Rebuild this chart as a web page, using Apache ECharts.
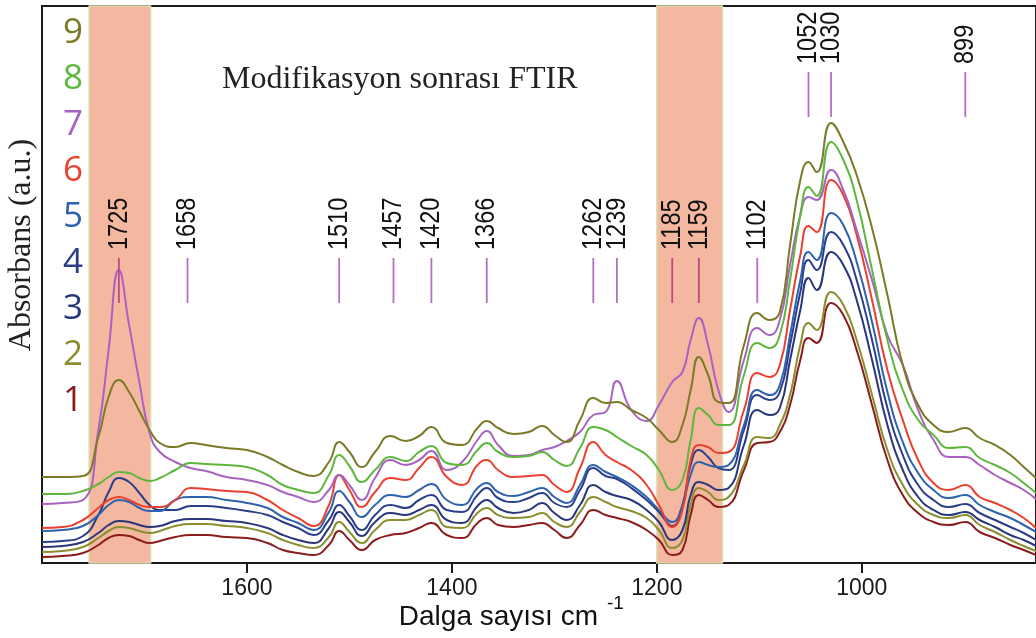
<!DOCTYPE html>
<html><head><meta charset="utf-8">
<script src="https://cdn.jsdelivr.net/npm/echarts@6.0.0/dist/echarts.min.js"></script>
<style>html,body{margin:0;padding:0;background:#fff}#c{width:1036px;height:638px}</style>
</head><body><div id="c"></div>
<script>
// wavenumbers (cm-1)
const wavenumbers = [1800,1780,1760,1745,1735,1725,1715,1705,1695,1685,1670,1655,1640,1620,1600,1580,1565,1550,1535,1520,1510,1500,1488,1475,1460,1445,1432,1420,1405,1390,1375,1366,1355,1340,1325,1312,1300,1288,1275,1262,1250,1239,1225,1210,1198,1185,1175,1167,1159,1150,1140,1130,1115,1102,1090,1080,1070,1060,1052,1044,1030,1018,1005,990,975,960,945,930,915,899,885,870,855,842,830];
// absorbance (a.u.), spectra 1..9
const s1 = [0.06,0.07,0.10,0.18,0.25,0.28,0.27,0.23,0.20,0.22,0.26,0.28,0.28,0.26,0.25,0.20,0.13,0.10,0.08,0.18,0.32,0.23,0.13,0.23,0.28,0.30,0.35,0.40,0.28,0.25,0.40,0.45,0.38,0.36,0.38,0.40,0.33,0.25,0.38,0.53,0.48,0.45,0.41,0.33,0.23,0.08,0.13,0.48,0.68,0.63,0.56,0.58,0.93,1.20,1.21,1.31,1.58,2.03,2.25,2.20,2.60,2.48,2.13,1.58,1.03,0.68,0.50,0.41,0.38,0.41,0.31,0.25,0.18,0.13,0.08];
const s2 = [0.11,0.12,0.16,0.25,0.32,0.36,0.35,0.32,0.30,0.32,0.37,0.39,0.39,0.37,0.35,0.30,0.23,0.18,0.15,0.26,0.41,0.31,0.20,0.33,0.43,0.43,0.48,0.53,0.36,0.35,0.50,0.55,0.48,0.45,0.46,0.50,0.41,0.36,0.51,0.66,0.61,0.56,0.52,0.45,0.33,0.15,0.23,0.58,0.75,0.71,0.63,0.66,0.98,1.26,1.25,1.38,1.68,2.18,2.40,2.33,2.71,2.58,2.23,1.68,1.13,0.78,0.58,0.48,0.45,0.48,0.38,0.31,0.23,0.17,0.12];
const s3 = [0.16,0.17,0.21,0.30,0.38,0.42,0.41,0.38,0.36,0.37,0.42,0.44,0.44,0.42,0.40,0.35,0.28,0.23,0.20,0.35,0.51,0.41,0.27,0.41,0.50,0.48,0.53,0.58,0.43,0.40,0.57,0.63,0.55,0.50,0.53,0.60,0.50,0.43,0.58,0.78,0.71,0.67,0.63,0.53,0.41,0.23,0.33,0.68,0.81,0.78,0.73,0.75,1.18,1.53,1.48,1.55,2.03,2.53,2.85,2.73,3.11,2.98,2.63,2.03,1.38,0.93,0.66,0.53,0.48,0.51,0.43,0.36,0.28,0.23,0.17];
const s4 = [0.21,0.22,0.27,0.48,0.71,0.85,0.81,0.70,0.58,0.53,0.53,0.57,0.57,0.55,0.52,0.48,0.41,0.35,0.28,0.43,0.58,0.47,0.33,0.48,0.58,0.55,0.63,0.68,0.53,0.51,0.68,0.75,0.65,0.61,0.65,0.70,0.60,0.56,0.73,0.95,0.87,0.84,0.75,0.63,0.51,0.37,0.58,0.98,1.13,1.06,0.95,0.93,1.33,1.68,1.63,1.71,2.18,2.71,3.03,2.93,3.31,3.18,2.83,2.23,1.55,1.08,0.78,0.63,0.56,0.59,0.50,0.43,0.36,0.30,0.23];
const s5 = [0.32,0.33,0.37,0.48,0.58,0.63,0.61,0.55,0.52,0.52,0.63,0.66,0.66,0.63,0.60,0.55,0.46,0.40,0.33,0.51,0.72,0.61,0.46,0.58,0.68,0.66,0.73,0.79,0.63,0.58,0.75,0.80,0.71,0.67,0.71,0.75,0.66,0.60,0.78,0.98,0.91,0.86,0.78,0.66,0.53,0.41,0.58,0.88,1.01,0.98,0.96,0.98,1.38,1.73,1.68,1.78,2.28,2.83,3.11,3.03,3.50,3.38,3.01,2.41,1.71,1.21,0.90,0.73,0.65,0.68,0.58,0.51,0.45,0.38,0.31];
const s6 = [0.35,0.36,0.43,0.55,0.63,0.66,0.63,0.58,0.56,0.56,0.63,0.75,0.74,0.72,0.71,0.63,0.53,0.45,0.37,0.58,0.88,0.73,0.56,0.71,0.85,0.83,0.95,1.06,0.86,0.78,0.98,1.03,0.93,0.86,0.87,0.88,0.78,0.71,0.95,1.21,1.08,1.01,0.93,0.78,0.58,0.36,0.53,1.03,1.18,1.16,1.10,1.11,1.53,1.90,1.86,1.98,2.53,3.08,3.37,3.31,3.83,3.68,3.28,2.63,1.93,1.43,1.03,0.80,0.73,0.78,0.66,0.60,0.53,0.45,0.35];
const s7 = [0.59,0.60,0.63,1.33,2.13,2.93,2.38,1.81,1.30,1.11,1.01,0.95,0.92,0.86,0.83,0.78,0.71,0.66,0.61,0.73,0.88,0.78,0.63,0.85,1.03,0.98,1.03,1.12,0.93,1.01,1.23,1.32,1.18,1.07,1.08,1.13,1.16,1.22,1.31,1.48,1.51,1.82,1.53,1.42,1.58,1.81,1.91,2.23,2.45,2.18,1.73,1.51,2.03,2.35,2.28,2.43,2.98,3.48,3.66,3.63,3.93,3.73,3.33,2.83,2.28,1.98,1.53,1.23,1.06,1.06,0.98,0.88,0.80,0.73,0.64];
const s8 = [0.69,0.69,0.72,0.79,0.86,0.91,0.90,0.85,0.82,0.85,0.93,1.00,0.99,0.98,0.96,0.88,0.78,0.73,0.70,0.88,1.08,0.97,0.81,0.93,1.06,1.02,1.11,1.17,1.00,0.98,1.13,1.20,1.11,1.06,1.07,1.11,1.03,0.97,1.15,1.36,1.33,1.26,1.17,1.08,0.93,0.73,0.83,1.23,1.55,1.48,1.38,1.38,1.88,2.20,2.15,2.28,2.83,3.48,3.76,3.67,4.21,4.03,3.63,2.93,2.23,1.73,1.43,1.28,1.15,1.16,1.05,0.98,0.90,0.80,0.70];
const s9 = [0.86,0.86,0.87,1.26,1.66,1.83,1.71,1.52,1.33,1.20,1.16,1.20,1.18,1.15,1.13,1.06,0.98,0.91,0.87,1.01,1.21,1.11,0.96,1.11,1.27,1.22,1.27,1.36,1.20,1.18,1.35,1.42,1.35,1.29,1.31,1.37,1.28,1.21,1.43,1.65,1.60,1.61,1.53,1.45,1.33,1.21,1.38,1.73,2.06,1.88,1.61,1.60,2.18,2.50,2.43,2.51,3.18,3.83,4.01,3.91,4.40,4.21,3.88,3.35,2.68,1.98,1.58,1.38,1.31,1.35,1.25,1.18,1.08,0.96,0.85];
const seriesNames = ['1','2','3','4','5','6','7','8','9'];
const xTickValues = [1600, 1400, 1200, 1000];
// marked peaks and the row they are annotated in (0 = lower row, 1 = upper row)
const peakWavenumbers = [1725,1658,1510,1457,1420,1366,1262,1239,1185,1159,1102,1052,1030,899];
const peakRows = [0,0,0,0,0,0,0,0,0,0,0,1,1,1];
// highlighted wavenumber bands [from, to]
const bandStarts = [1754, 1200];
const bandEnds = [1694, 1136];

const allSeries = [s1,s2,s3,s4,s5,s6,s7,s8,s9];
const colors = ['#8b1c1c','#8a8e2e','#29367a','#2a3e8a','#2f62ad','#e8412f','#a863c0','#5eb63e','#7b7a27'];
const rowLevels = [{lo:2.60, hi:3.05}, {lo:4.46, hi:4.91}];
const bands = bandStarts.map((b,i)=>[b, bandEnds[i]]);

const chart = echarts.init(document.getElementById('c'), null, {renderer:'canvas'});

const lineSeries = allSeries.map((arr, i) => ({
  name: seriesNames[i], type: 'line', z: 3,
  data: wavenumbers.map((w, j) => [w, arr[j]]),
  smooth: 0.5, showSymbol: false, silent: true,
  lineStyle: {color: colors[i], width: 2}, itemStyle: {color: colors[i]}
}));

const bandSeries = {
  type: 'custom', z: 1, silent: true,
  data: bands,
  renderItem: function (params, api) {
    const p0 = api.coord([api.value(0), 5.57]);
    const p1 = api.coord([api.value(1), 0]);
    return {type: 'rect', shape: {x: p0[0], y: p0[1], width: p1[0]-p0[0], height: p1[1]-p0[1]},
      style: {fill: '#f4b8a0', stroke: '#dcdcb0', lineWidth: 1.5}};
  }
};

const peakSeries = {
  type: 'custom', z: 4, silent: true, clip: false,
  data: peakWavenumbers.map((w, i) => [w, peakRows[i]]),
  renderItem: function (params, api) {
    const wn = api.value(0), lv = rowLevels[api.value(1)];
    const p0 = api.coord([wn, lv.lo]), p1 = api.coord([wn, lv.hi]);
    const pl = api.coord([wn, lv.hi + 0.08]);
    const inBand = bands.some(b => wn <= b[0] && wn >= b[1]);
    return {type: 'group', children: [
      {type: 'line', shape: {x1: p0[0], y1: p0[1], x2: p1[0], y2: p1[1]},
        style: {stroke: inBand ? '#c0468a' : '#b56dc6', lineWidth: 1.8}},
      {type: 'text', x: pl[0], y: pl[1], rotation: Math.PI/2, scaleX: 0.84,
        style: {text: String(wn), font: '28px "Liberation Sans", Arial, sans-serif', fill: '#111',
          align: 'left', verticalAlign: 'middle', textAlign: 'left', textVerticalAlign: 'middle'}}
    ]};
  }
};

const legendGraphics = seriesNames.map((n, i) => ({
  type: 'text', x: 73, y: 401 - i*46, z: 10,
  style: {text: n, font: '35px "Open Sans", "Noto Sans", sans-serif', fill: colors[i],
    align: 'center', verticalAlign: 'middle', textAlign: 'center', textVerticalAlign: 'middle'}
}));

chart.setOption({
  animation: false,
  backgroundColor: '#ffffff',
  grid: {left: 42, right: -1, top: 6, bottom: 75, show: true, borderColor: '#1a1a1a', borderWidth: 2, backgroundColor: 'transparent'},
  xAxis: {
    type: 'value', inverse: true, min: 830, max: 1800,
    axisLine: {show: true, onZero: false, lineStyle: {color: '#1a1a1a', width: 2}},
    axisTick: {show: true, customValues: xTickValues, length: 10, lineStyle: {color: '#1a1a1a', width: 2}},
    axisLabel: {show: true, customValues: xTickValues, formatter: v => String(v), fontSize: 23, color: '#1a1a1a', margin: 14, fontFamily: '"Liberation Sans", Arial, sans-serif'},
    splitLine: {show: false}
  },
  yAxis: {
    type: 'value', min: 0, max: 5.57,
    axisLine: {show: true, lineStyle: {color: '#1a1a1a', width: 2}},
    axisTick: {show: false}, axisLabel: {show: false}, splitLine: {show: false}
  },
  series: [bandSeries].concat(lineSeries, [peakSeries]),
  graphic: legendGraphics.concat([
    {type: 'text', x: 222, y: 80, z: 10,
      style: {text: 'Modifikasyon sonrası FTIR', font: '32px "Liberation Serif", "Times New Roman", serif', fill: '#222',
        align: 'left', verticalAlign: 'middle', textAlign: 'left', textVerticalAlign: 'middle'}},
    {type: 'text', x: 22, y: 245, rotation: Math.PI/2, z: 10,
      style: {text: 'Absorbans (a.u.)', font: '32px "Liberation Serif", "Times New Roman", serif', fill: '#222',
        align: 'center', verticalAlign: 'middle', textAlign: 'center', textVerticalAlign: 'middle'}},
    {type: 'text', x: 598, y: 617, z: 10,
      style: {text: 'Dalga sayısı cm', font: '28px "Liberation Sans", Arial, sans-serif', fill: '#111',
        align: 'right', verticalAlign: 'middle', textAlign: 'right', textVerticalAlign: 'middle'}},
    {type: 'text', x: 607, y: 604, z: 10,
      style: {text: '-1', font: '19px "Liberation Sans", Arial, sans-serif', fill: '#111',
        align: 'left', verticalAlign: 'middle', textAlign: 'left', textVerticalAlign: 'middle'}}
  ])
});
</script>
</body></html>
